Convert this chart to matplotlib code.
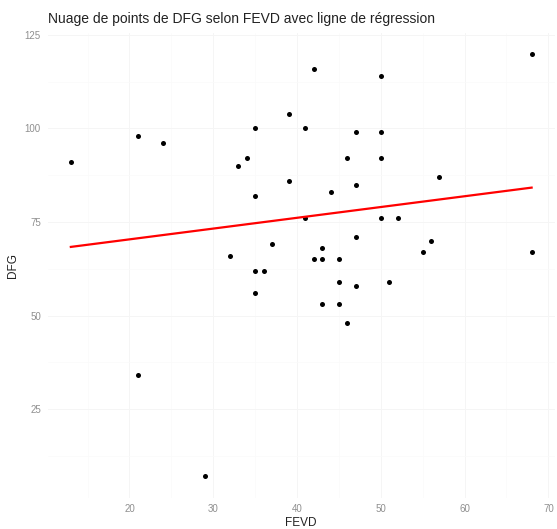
import numpy as np
import matplotlib
matplotlib.use("Agg")
import matplotlib.pyplot as plt
from matplotlib.ticker import MultipleLocator

plt.rcParams["font.family"] = ["Liberation Sans", "DejaVu Sans"]

# FEVD / DFG pairs
fevd = [13, 21, 24, 35, 39, 34, 33, 39, 35, 37, 32, 35, 36,
        68, 42, 50, 41, 47, 50, 46, 50, 57, 47, 44, 41, 50, 52,
        47, 56, 55, 68, 43, 42, 43, 45, 45, 47, 51, 43, 45, 46,
        35, 21, 29]
dfg = [91, 98, 96, 100, 104, 92, 90, 86, 82, 69, 66, 62, 62,
       120, 116, 114, 100, 99, 99, 92, 92, 87, 85, 83, 76, 76, 76,
       71, 70, 67, 67, 68, 65, 65, 65, 59, 58, 59, 53, 53, 48,
       56, 34, 7]

x = np.array(fevd, dtype=float)
y = np.array(dfg, dtype=float)

# linear regression (like geom_smooth(method = "lm", se = FALSE))
slope, intercept = np.polyfit(x, y, 1)
xs = np.array([x.min(), x.max()])

fig = plt.figure(figsize=(5.57, 5.29), dpi=100)
ax = fig.add_axes([0.0858, 0.0595, 0.910, 0.879])

ax.scatter(x, y, s=13, color="black", zorder=3, linewidths=0)
ax.plot(xs, intercept + slope * xs, color="red", linewidth=1.6, zorder=4)

xpad = (x.max() - x.min()) * 0.05
ypad = (y.max() - y.min()) * 0.05
ax.set_xlim(x.min() - xpad, x.max() + xpad)
ax.set_ylim(y.min() - ypad, y.max() + ypad)

ax.xaxis.set_major_locator(MultipleLocator(10))
ax.xaxis.set_minor_locator(MultipleLocator(5))
ax.yaxis.set_major_locator(MultipleLocator(25))
ax.yaxis.set_minor_locator(MultipleLocator(12.5))

ax.grid(True, which="major", color="#F5F5F5", linewidth=0.7)
ax.grid(True, which="minor", color="#FAFAFA", linewidth=0.5)
ax.set_axisbelow(True)
for s in ax.spines.values():
    s.set_visible(False)

ax.tick_params(which="both", length=0)
ax.tick_params(axis="both", labelsize=7, labelcolor="#8F8F8F")
ax.tick_params(axis="x", pad=5)
ax.tick_params(axis="y", pad=5)

ax.set_xlabel("FEVD", fontsize=8.5, color="#222222", labelpad=2)
ax.set_ylabel("DFG", fontsize=8.5, color="#222222", labelpad=4)
ax.set_title("Nuage de points de DFG selon FEVD avec ligne de régression",
             fontsize=10, color="#222222", loc="left", pad=7)

fig.savefig("out.png", dpi=100)
